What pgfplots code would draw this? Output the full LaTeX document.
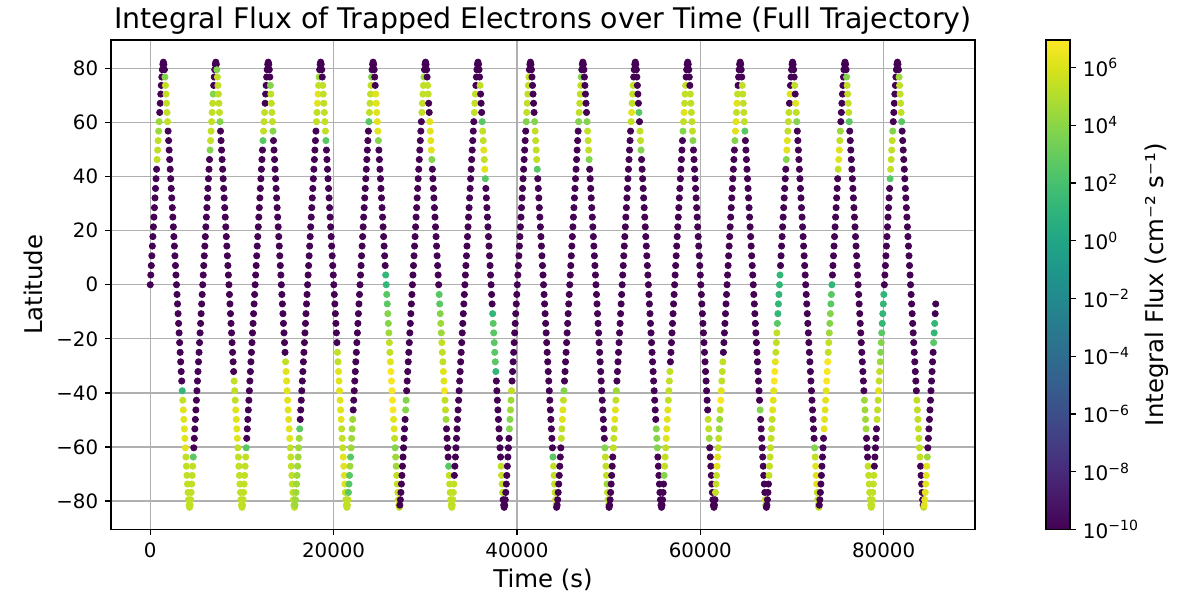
\documentclass[border=0pt]{standalone}
\usepackage{fontspec}
\setmainfont{DejaVu Sans}
\usepackage{pgfplots}
\usepackage{pgfplotstable}
\pgfplotsset{compat=1.18}
\pgfplotstableread{
t lat f
0 0 -10
57 3.6 -10
114 7.1 -10
172 10.7 -10
229 14.3 -10
286 17.8 -10
343 21.4 -10
400 25 -10
458 28.5 -10
515 32.1 -10
572 35.6 -10
629 39.2 -10
686 42.7 -10
744 46.3 5.4
801 49.8 5.4
858 53.3 5.4
915 56.8 4.5
972 60.3 4.5
1030 63.7 -10
1087 67.1 -10
1144 70.5 -10
1201 73.7 -10
1258 76.8 -10
1316 79.5 -10
1373 81.5 -10
1430 82.3 -10
1487 81.5 -10
1544 79.5 -10
1602 76.8 3.8
1659 73.7 5.4
1716 70.5 5.4
1773 67.1 5.4
1830 63.7 5.4
1888 60.3 5.4
1945 56.8 -10
2002 53.3 -10
2059 49.8 -10
2116 46.3 -10
2174 42.7 -10
2231 39.2 -10
2288 35.6 -10
2345 32.1 -10
2402 28.5 -10
2460 25 -10
2517 21.4 -10
2574 17.8 -10
2631 14.3 -10
2688 10.7 -10
2746 7.1 -10
2803 3.6 -10
2860 0 -10
2917 -3.6 -10
2974 -7.1 -10
3032 -10.7 -10
3089 -14.3 -10
3146 -17.8 -10
3203 -21.4 -10
3260 -25 -10
3318 -28.5 -10
3375 -32.1 -10
3432 -35.6 -10
3489 -39.2 1.2
3546 -42.7 5.4
3604 -46.3 6.2
3661 -49.8 6.2
3718 -53.3 6.2
3775 -56.8 6.2
3832 -60.3 6.2
3890 -63.7 5.4
3947 -67.1 5.4
4004 -70.5 5.4
4061 -73.7 5.4
4118 -76.8 5.4
4176 -79.5 5.4
4233 -81.5 5.4
4290 -82.3 5.4
4347 -81.5 5.4
4404 -79.5 5.4
4462 -76.8 5.4
4519 -73.7 5.4
4576 -70.5 5.4
4633 -67.1 5.4
4690 -63.7 2.6
4748 -60.3 -10
4805 -56.8 -10
4862 -53.3 -10
4919 -49.8 -10
4976 -46.3 -10
5034 -42.7 -10
5091 -39.2 -10
5148 -35.6 -10
5205 -32.1 -10
5262 -28.5 -10
5320 -25 -10
5377 -21.4 -10
5434 -17.8 -10
5491 -14.3 -10
5548 -10.7 -10
5606 -7.1 -10
5663 -3.6 -10
5720 0 -10
5777 3.6 -10
5834 7.1 -10
5892 10.7 -10
5949 14.3 -10
6006 17.8 -10
6063 21.4 -10
6120 25 -10
6178 28.5 -10
6235 32.1 -10
6292 35.6 -10
6349 39.2 -10
6406 42.7 -10
6464 46.3 -10
6521 49.8 3.8
6578 53.3 5.4
6635 56.8 5.4
6692 60.3 5.4
6750 63.7 5.4
6807 67.1 5.4
6864 70.5 3.8
6921 73.7 -10
6978 76.8 -10
7036 79.5 -10
7093 81.5 -10
7150 82.3 -10
7207 81.5 -10
7264 79.5 3.8
7322 76.8 5.4
7379 73.7 5.4
7436 70.5 5.4
7493 67.1 5.4
7550 63.7 5.4
7608 60.3 3.8
7665 56.8 -10
7722 53.3 -10
7779 49.8 -10
7836 46.3 -10
7894 42.7 -10
7951 39.2 -10
8008 35.6 -10
8065 32.1 -10
8122 28.5 -10
8180 25 -10
8237 21.4 -10
8294 17.8 -10
8351 14.3 -10
8408 10.7 -10
8466 7.1 -10
8523 3.6 -10
8580 0 -10
8637 -3.6 -10
8694 -7.1 -10
8752 -10.7 -10
8809 -14.3 -10
8866 -17.8 -10
8923 -21.4 -10
8980 -25 -10
9038 -28.5 -10
9095 -32.1 -10
9152 -35.6 5.4
9209 -39.2 5.4
9266 -42.7 5.4
9324 -46.3 6.2
9381 -49.8 6.2
9438 -53.3 6.2
9495 -56.8 6.2
9552 -60.3 5.4
9610 -63.7 5.4
9667 -67.1 5.4
9724 -70.5 5.4
9781 -73.7 5.4
9838 -76.8 5.4
9896 -79.5 5.4
9953 -81.5 5.4
10010 -82.3 5.4
10067 -81.5 5.4
10124 -79.5 5.4
10182 -76.8 5.4
10239 -73.7 5.4
10296 -70.5 5.4
10353 -67.1 5.4
10410 -63.7 5.4
10468 -60.3 2.6
10525 -56.8 -10
10582 -53.3 -10
10639 -49.8 -10
10696 -46.3 -10
10754 -42.7 -10
10811 -39.2 -10
10868 -35.6 -10
10925 -32.1 -10
10982 -28.5 -10
11040 -25 -10
11097 -21.4 -10
11154 -17.8 -10
11211 -14.3 -10
11268 -10.7 -10
11326 -7.1 -10
11383 -3.6 -10
11440 0 -10
11497 3.6 -10
11554 7.1 -10
11612 10.7 -10
11669 14.3 -10
11726 17.8 -10
11783 21.4 -10
11840 25 -10
11898 28.5 -10
11955 32.1 -10
12012 35.6 -10
12069 39.2 -10
12126 42.7 -10
12184 46.3 -10
12241 49.8 -10
12298 53.3 2.6
12355 56.8 5.4
12412 60.3 5.4
12470 63.7 5.4
12527 67.1 -10
12584 70.5 -10
12641 73.7 -10
12698 76.8 -10
12756 79.5 -10
12813 81.5 -10
12870 82.3 -10
12927 81.5 -10
12984 79.5 -10
13042 76.8 -10
13099 73.7 3.8
13156 70.5 5.4
13213 67.1 5.4
13270 63.7 5.4
13328 60.3 5.4
13385 56.8 3.8
13442 53.3 -10
13499 49.8 -10
13556 46.3 -10
13614 42.7 -10
13671 39.2 -10
13728 35.6 -10
13785 32.1 -10
13842 28.5 -10
13900 25 -10
13957 21.4 -10
14014 17.8 -10
14071 14.3 -10
14128 10.7 -10
14186 7.1 -10
14243 3.6 -10
14300 0 -10
14357 -3.6 -10
14414 -7.1 -10
14472 -10.7 -10
14529 -14.3 -10
14586 -17.8 -10
14643 -21.4 -10
14700 -25 -10
14758 -28.5 5.4
14815 -32.1 6.2
14872 -35.6 6.2
14929 -39.2 6.2
14986 -42.7 6.2
15044 -46.3 6.2
15101 -49.8 6.2
15158 -53.3 6.2
15215 -56.8 6.2
15272 -60.3 5.4
15330 -63.7 5.4
15387 -67.1 5.4
15444 -70.5 5.4
15501 -73.7 5.4
15558 -76.8 5.4
15616 -79.5 5.4
15673 -81.5 5.4
15730 -82.3 5.4
15787 -81.5 4.5
15844 -79.5 4.5
15902 -76.8 4.5
15959 -73.7 4.5
16016 -70.5 4.5
16073 -67.1 4.5
16130 -63.7 4.5
16188 -60.3 4.5
16245 -56.8 4.5
16302 -53.3 2.6
16359 -49.8 -10
16416 -46.3 -10
16474 -42.7 -10
16531 -39.2 -10
16588 -35.6 -10
16645 -32.1 -10
16702 -28.5 -10
16760 -25 -10
16817 -21.4 -10
16874 -17.8 -10
16931 -14.3 -10
16988 -10.7 -10
17046 -7.1 -10
17103 -3.6 -10
17160 0 -10
17217 3.6 -10
17274 7.1 -10
17332 10.7 -10
17389 14.3 -10
17446 17.8 -10
17503 21.4 -10
17560 25 -10
17618 28.5 -10
17675 32.1 -10
17732 35.6 -10
17789 39.2 -10
17846 42.7 -10
17904 46.3 -10
17961 49.8 -10
18018 53.3 -10
18075 56.8 -10
18132 60.3 5.4
18190 63.7 5.4
18247 67.1 6.2
18304 70.5 6.2
18361 73.7 5.4
18418 76.8 4.5
18476 79.5 -10
18533 81.5 -10
18590 82.3 -10
18647 81.5 -10
18704 79.5 -10
18762 76.8 -10
18819 73.7 5.4
18876 70.5 5.4
18933 67.1 5.4
18990 63.7 5.4
19048 60.3 5.4
19105 56.8 5.4
19162 53.3 2.6
19219 49.8 -10
19276 46.3 -10
19334 42.7 -10
19391 39.2 -10
19448 35.6 -10
19505 32.1 -10
19562 28.5 -10
19620 25 -10
19677 21.4 -10
19734 17.8 -10
19791 14.3 -10
19848 10.7 -10
19906 7.1 -10
19963 3.6 -10
20020 0 -10
20077 -3.6 -10
20134 -7.1 -10
20192 -10.7 -10
20249 -14.3 -10
20306 -17.8 -10
20363 -21.4 -10
20420 -25 5.4
20478 -28.5 5.4
20535 -32.1 6.2
20592 -35.6 6.2
20649 -39.2 6.2
20706 -42.7 6.2
20764 -46.3 6.2
20821 -49.8 6.2
20878 -53.3 5.4
20935 -56.8 5.4
20992 -60.3 5.4
21050 -63.7 6.2
21107 -67.1 6.2
21164 -70.5 6.2
21221 -73.7 6.2
21278 -76.8 5.4
21336 -79.5 5.4
21393 -81.5 5.4
21450 -82.3 5.4
21507 -81.5 5.4
21564 -79.5 5.4
21622 -76.8 2.6
21679 -73.7 2.6
21736 -70.5 2.6
21793 -67.1 4.5
21850 -63.7 2.6
21908 -60.3 4.5
21965 -56.8 4.5
22022 -53.3 4.5
22079 -49.8 4.5
22136 -46.3 -10
22194 -42.7 -10
22251 -39.2 -10
22308 -35.6 -10
22365 -32.1 -10
22422 -28.5 -10
22480 -25 -10
22537 -21.4 -10
22594 -17.8 -10
22651 -14.3 -10
22708 -10.7 -10
22766 -7.1 -10
22823 -3.6 -10
22880 0 -10
22937 3.6 -10
22994 7.1 -10
23052 10.7 -10
23109 14.3 -10
23166 17.8 -10
23223 21.4 -10
23280 25 -10
23338 28.5 -10
23395 32.1 -10
23452 35.6 -10
23509 39.2 -10
23566 42.7 -10
23624 46.3 -10
23681 49.8 -10
23738 53.3 -10
23795 56.8 -10
23852 60.3 2.6
23910 63.7 5.4
23967 67.1 5.4
24024 70.5 5.4
24081 73.7 5.4
24138 76.8 3.8
24196 79.5 -10
24253 81.5 -10
24310 82.3 -10
24367 81.5 -10
24424 79.5 -10
24482 76.8 -10
24539 73.7 -10
24596 70.5 6.2
24653 67.1 6.2
24710 63.7 6.2
24768 60.3 6.2
24825 56.8 6.2
24882 53.3 3.8
24939 49.8 -10
24996 46.3 -10
25054 42.7 -10
25111 39.2 -10
25168 35.6 -10
25225 32.1 -10
25282 28.5 -10
25340 25 -10
25397 21.4 -10
25454 17.8 -10
25511 14.3 -10
25568 10.7 -10
25626 7.1 -10
25683 3.6 1.2
25740 0 1.2
25797 -3.6 2.6
25854 -7.1 2.6
25912 -10.7 3.8
25969 -14.3 3.8
26026 -17.8 4.5
26083 -21.4 5.4
26140 -25 5.4
26198 -28.5 6.2
26255 -32.1 6.8
26312 -35.6 6.8
26369 -39.2 6.8
26426 -42.7 6.8
26484 -46.3 6.8
26541 -49.8 6.2
26598 -53.3 6.2
26655 -56.8 5.4
26712 -60.3 3.8
26770 -63.7 4.5
26827 -67.1 4.5
26884 -70.5 5.4
26941 -73.7 5.4
26998 -76.8 5.4
27056 -79.5 5.4
27113 -81.5 5.4
27170 -82.3 5.4
27227 -81.5 -10
27284 -79.5 -10
27342 -76.8 -10
27399 -73.7 -10
27456 -70.5 -10
27513 -67.1 -10
27570 -63.7 -10
27628 -60.3 -10
27685 -56.8 -10
27742 -53.3 -10
27799 -49.8 -10
27856 -46.3 3.8
27914 -42.7 3.8
27971 -39.2 -10
28028 -35.6 -10
28085 -32.1 -10
28142 -28.5 -10
28200 -25 -10
28257 -21.4 -10
28314 -17.8 -10
28371 -14.3 -10
28428 -10.7 -10
28486 -7.1 -10
28543 -3.6 -10
28600 0 -10
28657 3.6 -10
28714 7.1 -10
28772 10.7 -10
28829 14.3 -10
28886 17.8 -10
28943 21.4 -10
29000 25 -10
29058 28.5 -10
29115 32.1 -10
29172 35.6 -10
29229 39.2 -10
29286 42.7 -10
29344 46.3 -10
29401 49.8 -10
29458 53.3 -10
29515 56.8 -10
29572 60.3 -10
29630 63.7 5.4
29687 67.1 5.4
29744 70.5 5.4
29801 73.7 5.4
29858 76.8 4.5
29916 79.5 -10
29973 81.5 -10
30030 82.3 -10
30087 81.5 -10
30144 79.5 -10
30202 76.8 -10
30259 73.7 5.4
30316 70.5 5.4
30373 67.1 -10
30430 63.7 -10
30488 60.3 6.2
30545 56.8 6.2
30602 53.3 6.2
30659 49.8 6.2
30716 46.3 3.8
30774 42.7 -10
30831 39.2 -10
30888 35.6 -10
30945 32.1 -10
31002 28.5 -10
31060 25 -10
31117 21.4 -10
31174 17.8 -10
31231 14.3 -10
31288 10.7 -10
31346 7.1 -10
31403 3.6 -10
31460 0 -10
31517 -3.6 2.6
31574 -7.1 2.6
31632 -10.7 3.8
31689 -14.3 4.5
31746 -17.8 4.5
31803 -21.4 5.4
31860 -25 5.4
31918 -28.5 5.4
31975 -32.1 6.2
32032 -35.6 6.2
32089 -39.2 6.8
32146 -42.7 5.4
32204 -46.3 5.4
32261 -49.8 4.5
32318 -53.3 -10
32375 -56.8 -10
32432 -60.3 -10
32490 -63.7 -10
32547 -67.1 2.6
32604 -70.5 5.4
32661 -73.7 5.4
32718 -76.8 5.4
32776 -79.5 5.4
32833 -81.5 5.4
32890 -82.3 5.4
32947 -81.5 5.4
33004 -79.5 5.4
33062 -76.8 5.4
33119 -73.7 5.4
33176 -70.5 -10
33233 -67.1 -10
33290 -63.7 -10
33348 -60.3 -10
33405 -56.8 -10
33462 -53.3 -10
33519 -49.8 -10
33576 -46.3 -10
33634 -42.7 -10
33691 -39.2 -10
33748 -35.6 -10
33805 -32.1 -10
33862 -28.5 -10
33920 -25 -10
33977 -21.4 -10
34034 -17.8 -10
34091 -14.3 -10
34148 -10.7 -10
34206 -7.1 -10
34263 -3.6 -10
34320 0 -10
34377 3.6 -10
34434 7.1 -10
34492 10.7 -10
34549 14.3 -10
34606 17.8 -10
34663 21.4 -10
34720 25 -10
34778 28.5 -10
34835 32.1 -10
34892 35.6 -10
34949 39.2 -10
35006 42.7 -10
35064 46.3 -10
35121 49.8 -10
35178 53.3 -10
35235 56.8 -10
35292 60.3 -10
35350 63.7 5.4
35407 67.1 5.4
35464 70.5 5.4
35521 73.7 -10
35578 76.8 -10
35636 79.5 -10
35693 81.5 -10
35750 82.3 -10
35807 81.5 -10
35864 79.5 -10
35922 76.8 -10
35979 73.7 5.4
36036 70.5 -10
36093 67.1 -10
36150 63.7 -10
36208 60.3 2.6
36265 56.8 5.4
36322 53.3 5.4
36379 49.8 6.2
36436 46.3 5.4
36494 42.7 6.2
36551 39.2 2.6
36608 35.6 -10
36665 32.1 -10
36722 28.5 -10
36780 25 -10
36837 21.4 -10
36894 17.8 -10
36951 14.3 -10
37008 10.7 -10
37066 7.1 -10
37123 3.6 -10
37180 0 -10
37237 -3.6 -10
37294 -7.1 -10
37352 -10.7 1.2
37409 -14.3 2.6
37466 -17.8 2.6
37523 -21.4 2.6
37580 -25 2.6
37638 -28.5 2.6
37695 -32.1 1.2
37752 -35.6 -10
37809 -39.2 -10
37866 -42.7 -10
37924 -46.3 -10
37981 -49.8 -10
38038 -53.3 -10
38095 -56.8 -10
38152 -60.3 -10
38210 -63.7 -10
38267 -67.1 5.4
38324 -70.5 5.4
38381 -73.7 5.4
38438 -76.8 5.4
38496 -79.5 -10
38553 -81.5 -10
38610 -82.3 -10
38667 -81.5 -10
38724 -79.5 -10
38782 -76.8 -10
38839 -73.7 -10
38896 -70.5 -10
38953 -67.1 -10
39010 -63.7 -10
39068 -60.3 -10
39125 -56.8 -10
39182 -53.3 3.8
39239 -49.8 3.8
39296 -46.3 4.5
39354 -42.7 4.5
39411 -39.2 5.4
39468 -35.6 -10
39525 -32.1 -10
39582 -28.5 -10
39640 -25 -10
39697 -21.4 -10
39754 -17.8 -10
39811 -14.3 -10
39868 -10.7 -10
39926 -7.1 -10
39983 -3.6 -10
40040 0 -10
40097 3.6 -10
40154 7.1 -10
40212 10.7 -10
40269 14.3 -10
40326 17.8 -10
40383 21.4 -10
40440 25 -10
40498 28.5 -10
40555 32.1 -10
40612 35.6 -10
40669 39.2 -10
40726 42.7 -10
40784 46.3 -10
40841 49.8 -10
40898 53.3 -10
40955 56.8 -10
41012 60.3 3.8
41070 63.7 5.4
41127 67.1 5.4
41184 70.5 5.4
41241 73.7 5.4
41298 76.8 5.4
41356 79.5 -10
41413 81.5 -10
41470 82.3 -10
41527 81.5 -10
41584 79.5 -10
41642 76.8 -10
41699 73.7 -10
41756 70.5 -10
41813 67.1 -10
41870 63.7 -10
41928 60.3 3.8
41985 56.8 5.4
42042 53.3 5.4
42099 49.8 5.4
42156 46.3 5.4
42214 42.7 2.6
42271 39.2 -10
42328 35.6 -10
42385 32.1 -10
42442 28.5 -10
42500 25 -10
42557 21.4 -10
42614 17.8 -10
42671 14.3 -10
42728 10.7 -10
42786 7.1 -10
42843 3.6 -10
42900 0 -10
42957 -3.6 -10
43014 -7.1 -10
43072 -10.7 -10
43129 -14.3 -10
43186 -17.8 -10
43243 -21.4 -10
43300 -25 -10
43358 -28.5 -10
43415 -32.1 -10
43472 -35.6 -10
43529 -39.2 -10
43586 -42.7 -10
43644 -46.3 -10
43701 -49.8 -10
43758 -53.3 -10
43815 -56.8 -10
43872 -60.3 -10
43930 -63.7 2.6
43987 -67.1 5.4
44044 -70.5 5.4
44101 -73.7 5.4
44158 -76.8 5.4
44216 -79.5 5.4
44273 -81.5 5.4
44330 -82.3 -10
44387 -81.5 -10
44444 -79.5 -10
44502 -76.8 -10
44559 -73.7 -10
44616 -70.5 -10
44673 -67.1 -10
44730 -63.7 -10
44788 -60.3 -10
44845 -56.8 5.4
44902 -53.3 5.4
44959 -49.8 6.2
45016 -46.3 6.2
45074 -42.7 5.4
45131 -39.2 3.8
45188 -35.6 -10
45245 -32.1 -10
45302 -28.5 -10
45360 -25 -10
45417 -21.4 -10
45474 -17.8 -10
45531 -14.3 -10
45588 -10.7 -10
45646 -7.1 -10
45703 -3.6 -10
45760 0 -10
45817 3.6 -10
45874 7.1 -10
45932 10.7 -10
45989 14.3 -10
46046 17.8 -10
46103 21.4 -10
46160 25 -10
46218 28.5 -10
46275 32.1 -10
46332 35.6 -10
46389 39.2 -10
46446 42.7 -10
46504 46.3 -10
46561 49.8 -10
46618 53.3 -10
46675 56.8 -10
46732 60.3 3.8
46790 63.7 5.4
46847 67.1 5.4
46904 70.5 5.4
46961 73.7 5.4
47018 76.8 3.8
47076 79.5 -10
47133 81.5 -10
47190 82.3 -10
47247 81.5 -10
47304 79.5 -10
47362 76.8 -10
47419 73.7 -10
47476 70.5 -10
47533 67.1 -10
47590 63.7 -10
47648 60.3 3.8
47705 56.8 5.4
47762 53.3 5.4
47819 49.8 5.4
47876 46.3 3.8
47934 42.7 -10
47991 39.2 -10
48048 35.6 -10
48105 32.1 -10
48162 28.5 -10
48220 25 -10
48277 21.4 -10
48334 17.8 -10
48391 14.3 -10
48448 10.7 -10
48506 7.1 -10
48563 3.6 -10
48620 0 -10
48677 -3.6 -10
48734 -7.1 -10
48792 -10.7 -10
48849 -14.3 -10
48906 -17.8 -10
48963 -21.4 -10
49020 -25 -10
49078 -28.5 -10
49135 -32.1 -10
49192 -35.6 -10
49249 -39.2 -10
49306 -42.7 -10
49364 -46.3 -10
49421 -49.8 -10
49478 -53.3 -10
49535 -56.8 -10
49592 -60.3 3.8
49650 -63.7 5.4
49707 -67.1 5.4
49764 -70.5 5.4
49821 -73.7 4.5
49878 -76.8 5.4
49936 -79.5 5.4
49993 -81.5 5.4
50050 -82.3 -10
50107 -81.5 -10
50164 -79.5 -10
50222 -76.8 -10
50279 -73.7 -10
50336 -70.5 -10
50393 -67.1 -10
50450 -63.7 -10
50508 -60.3 5.4
50565 -56.8 5.4
50622 -53.3 5.4
50679 -49.8 6.2
50736 -46.3 6.2
50794 -42.7 5.4
50851 -39.2 4.5
50908 -35.6 -10
50965 -32.1 -10
51022 -28.5 -10
51080 -25 -10
51137 -21.4 -10
51194 -17.8 -10
51251 -14.3 -10
51308 -10.7 -10
51366 -7.1 -10
51423 -3.6 -10
51480 0 -10
51537 3.6 -10
51594 7.1 -10
51652 10.7 -10
51709 14.3 -10
51766 17.8 -10
51823 21.4 -10
51880 25 -10
51938 28.5 -10
51995 32.1 -10
52052 35.6 -10
52109 39.2 -10
52166 42.7 -10
52224 46.3 -10
52281 49.8 -10
52338 53.3 -10
52395 56.8 -10
52452 60.3 5.4
52510 63.7 6.2
52567 67.1 5.4
52624 70.5 5.4
52681 73.7 5.4
52738 76.8 -10
52796 79.5 -10
52853 81.5 -10
52910 82.3 -10
52967 81.5 -10
53024 79.5 -10
53082 76.8 -10
53139 73.7 -10
53196 70.5 -10
53253 67.1 -10
53310 63.7 2.6
53368 60.3 -10
53425 56.8 5.4
53482 53.3 5.4
53539 49.8 3.8
53596 46.3 -10
53654 42.7 -10
53711 39.2 -10
53768 35.6 -10
53825 32.1 -10
53882 28.5 -10
53940 25 -10
53997 21.4 -10
54054 17.8 -10
54111 14.3 -10
54168 10.7 -10
54226 7.1 -10
54283 3.6 -10
54340 0 -10
54397 -3.6 -10
54454 -7.1 -10
54512 -10.7 -10
54569 -14.3 -10
54626 -17.8 -10
54683 -21.4 -10
54740 -25 -10
54798 -28.5 -10
54855 -32.1 -10
54912 -35.6 -10
54969 -39.2 -10
55026 -42.7 -10
55084 -46.3 -10
55141 -49.8 -10
55198 -53.3 3.8
55255 -56.8 3.8
55312 -60.3 3.8
55370 -63.7 -10
55427 -67.1 -10
55484 -70.5 -10
55541 -73.7 -10
55598 -76.8 -10
55656 -79.5 -10
55713 -81.5 -10
55770 -82.3 -10
55827 -81.5 -10
55884 -79.5 -10
55942 -76.8 -10
55999 -73.7 -10
56056 -70.5 3.8
56113 -67.1 5.4
56170 -63.7 5.4
56228 -60.3 5.4
56285 -56.8 6.2
56342 -53.3 6.2
56399 -49.8 6.2
56456 -46.3 6.2
56514 -42.7 5.4
56571 -39.2 5.4
56628 -35.6 5.4
56685 -32.1 5.4
56742 -28.5 -10
56800 -25 -10
56857 -21.4 -10
56914 -17.8 -10
56971 -14.3 -10
57028 -10.7 -10
57086 -7.1 -10
57143 -3.6 -10
57200 0 -10
57257 3.6 -10
57314 7.1 -10
57372 10.7 -10
57429 14.3 -10
57486 17.8 -10
57543 21.4 -10
57600 25 -10
57658 28.5 -10
57715 32.1 -10
57772 35.6 -10
57829 39.2 -10
57886 42.7 -10
57944 46.3 -10
58001 49.8 -10
58058 53.3 -10
58115 56.8 3.8
58172 60.3 5.4
58230 63.7 6.2
58287 67.1 5.4
58344 70.5 5.4
58401 73.7 5.4
58458 76.8 -10
58516 79.5 -10
58573 81.5 -10
58630 82.3 -10
58687 81.5 -10
58744 79.5 -10
58802 76.8 -10
58859 73.7 -10
58916 70.5 5.4
58973 67.1 5.4
59030 63.7 5.4
59088 60.3 5.4
59145 56.8 5.4
59202 53.3 3.8
59259 49.8 -10
59316 46.3 -10
59374 42.7 -10
59431 39.2 -10
59488 35.6 -10
59545 32.1 -10
59602 28.5 -10
59660 25 -10
59717 21.4 -10
59774 17.8 -10
59831 14.3 -10
59888 10.7 -10
59946 7.1 -10
60003 3.6 -10
60060 0 -10
60117 -3.6 -10
60174 -7.1 -10
60232 -10.7 -10
60289 -14.3 -10
60346 -17.8 -10
60403 -21.4 -10
60460 -25 -10
60518 -28.5 -10
60575 -32.1 -10
60632 -35.6 -10
60689 -39.2 -10
60746 -42.7 -10
60804 -46.3 -10
60861 -49.8 5.4
60918 -53.3 5.4
60975 -56.8 4.5
61032 -60.3 -10
61090 -63.7 -10
61147 -67.1 -10
61204 -70.5 -10
61261 -73.7 -10
61318 -76.8 -10
61376 -79.5 -10
61433 -81.5 -10
61490 -82.3 -10
61547 -81.5 -10
61604 -79.5 -10
61662 -76.8 5.4
61719 -73.7 5.4
61776 -70.5 5.4
61833 -67.1 6.2
61890 -63.7 6.2
61948 -60.3 5.4
62005 -56.8 5.4
62062 -53.3 4.5
62119 -49.8 4.5
62176 -46.3 5.4
62234 -42.7 6.8
62291 -39.2 6.2
62348 -35.6 5.4
62405 -32.1 5.4
62462 -28.5 5.4
62520 -25 -10
62577 -21.4 -10
62634 -17.8 -10
62691 -14.3 -10
62748 -10.7 -10
62806 -7.1 -10
62863 -3.6 -10
62920 0 -10
62977 3.6 -10
63034 7.1 -10
63092 10.7 -10
63149 14.3 -10
63206 17.8 -10
63263 21.4 -10
63320 25 -10
63378 28.5 -10
63435 32.1 -10
63492 35.6 -10
63549 39.2 -10
63606 42.7 -10
63664 46.3 -10
63721 49.8 -10
63778 53.3 3.8
63835 56.8 6.2
63892 60.3 6.2
63950 63.7 5.4
64007 67.1 6.2
64064 70.5 5.4
64121 73.7 -10
64178 76.8 -10
64236 79.5 -10
64293 81.5 -10
64350 82.3 -10
64407 81.5 -10
64464 79.5 -10
64522 76.8 -10
64579 73.7 5.4
64636 70.5 5.4
64693 67.1 5.4
64750 63.7 5.4
64808 60.3 5.4
64865 56.8 2.6
64922 53.3 -10
64979 49.8 -10
65036 46.3 -10
65094 42.7 -10
65151 39.2 -10
65208 35.6 -10
65265 32.1 -10
65322 28.5 -10
65380 25 -10
65437 21.4 -10
65494 17.8 -10
65551 14.3 -10
65608 10.7 -10
65666 7.1 -10
65723 3.6 -10
65780 0 -10
65837 -3.6 -10
65894 -7.1 -10
65952 -10.7 -10
66009 -14.3 -10
66066 -17.8 -10
66123 -21.4 -10
66180 -25 -10
66238 -28.5 -10
66295 -32.1 -10
66352 -35.6 -10
66409 -39.2 -10
66466 -42.7 -10
66524 -46.3 3.8
66581 -49.8 -10
66638 -53.3 -10
66695 -56.8 -10
66752 -60.3 -10
66810 -63.7 -10
66867 -67.1 -10
66924 -70.5 -10
66981 -73.7 -10
67038 -76.8 -10
67096 -79.5 5.4
67153 -81.5 3.8
67210 -82.3 -10
67267 -81.5 -10
67324 -79.5 -10
67382 -76.8 -10
67439 -73.7 -10
67496 -70.5 5.4
67553 -67.1 5.4
67610 -63.7 5.4
67668 -60.3 5.4
67725 -56.8 5.4
67782 -53.3 5.4
67839 -49.8 5.4
67896 -46.3 6.2
67954 -42.7 6.2
68011 -39.2 6.2
68068 -35.6 6.8
68125 -32.1 6.8
68182 -28.5 6.2
68240 -25 5.4
68297 -21.4 5.4
68354 -17.8 5.4
68411 -14.3 2.6
68468 -10.7 1.2
68526 -7.1 1.2
68583 -3.6 1.2
68640 0 1.2
68697 3.6 1.2
68754 7.1 -10
68812 10.7 -10
68869 14.3 -10
68926 17.8 -10
68983 21.4 -10
69040 25 -10
69098 28.5 -10
69155 32.1 -10
69212 35.6 -10
69269 39.2 -10
69326 42.7 -10
69384 46.3 3.8
69441 49.8 6.2
69498 53.3 6.2
69555 56.8 5.4
69612 60.3 5.4
69670 63.7 5.4
69727 67.1 -10
69784 70.5 6.2
69841 73.7 -10
69898 76.8 -10
69956 79.5 -10
70013 81.5 -10
70070 82.3 -10
70127 81.5 -10
70184 79.5 -10
70242 76.8 -10
70299 73.7 5.4
70356 70.5 -10
70413 67.1 6.2
70470 63.7 5.4
70528 60.3 3.8
70585 56.8 -10
70642 53.3 -10
70699 49.8 -10
70756 46.3 -10
70814 42.7 -10
70871 39.2 -10
70928 35.6 -10
70985 32.1 -10
71042 28.5 -10
71100 25 -10
71157 21.4 -10
71214 17.8 -10
71271 14.3 -10
71328 10.7 -10
71386 7.1 -10
71443 3.6 -10
71500 0 -10
71557 -3.6 -10
71614 -7.1 -10
71672 -10.7 -10
71729 -14.3 -10
71786 -17.8 -10
71843 -21.4 -10
71900 -25 -10
71958 -28.5 -10
72015 -32.1 -10
72072 -35.6 -10
72129 -39.2 -10
72186 -42.7 -10
72244 -46.3 -10
72301 -49.8 -10
72358 -53.3 -10
72415 -56.8 -10
72472 -60.3 3.8
72530 -63.7 5.4
72587 -67.1 6.2
72644 -70.5 6.2
72701 -73.7 6.2
72758 -76.8 5.4
72816 -79.5 5.4
72873 -81.5 5.4
72930 -82.3 5.4
72987 -81.5 -10
73044 -79.5 -10
73102 -76.8 -10
73159 -73.7 -10
73216 -70.5 -10
73273 -67.1 -10
73330 -63.7 -10
73388 -60.3 -10
73445 -56.8 -10
73502 -53.3 6.2
73559 -49.8 6.2
73616 -46.3 6.2
73674 -42.7 6.2
73731 -39.2 6.2
73788 -35.6 6.8
73845 -32.1 6.8
73902 -28.5 6.8
73960 -25 5.4
74017 -21.4 5.4
74074 -17.8 4.5
74131 -14.3 3.8
74188 -10.7 3.8
74246 -7.1 2.6
74303 -3.6 2.6
74360 0 1.2
74417 3.6 -10
74474 7.1 -10
74532 10.7 -10
74589 14.3 -10
74646 17.8 -10
74703 21.4 -10
74760 25 -10
74818 28.5 -10
74875 32.1 -10
74932 35.6 -10
74989 39.2 -10
75046 42.7 5.4
75104 46.3 6.2
75161 49.8 6.2
75218 53.3 5.4
75275 56.8 4.5
75332 60.3 -10
75390 63.7 -10
75447 67.1 -10
75504 70.5 -10
75561 73.7 -10
75618 76.8 -10
75676 79.5 -10
75733 81.5 -10
75790 82.3 -10
75847 81.5 -10
75904 79.5 -10
75962 76.8 3.8
76019 73.7 5.4
76076 70.5 5.4
76133 67.1 5.4
76190 63.7 5.4
76248 60.3 2.6
76305 56.8 -10
76362 53.3 -10
76419 49.8 -10
76476 46.3 -10
76534 42.7 -10
76591 39.2 -10
76648 35.6 -10
76705 32.1 -10
76762 28.5 -10
76820 25 -10
76877 21.4 -10
76934 17.8 -10
76991 14.3 -10
77048 10.7 -10
77106 7.1 -10
77163 3.6 -10
77220 0 -10
77277 -3.6 -10
77334 -7.1 -10
77392 -10.7 -10
77449 -14.3 -10
77506 -17.8 -10
77563 -21.4 -10
77620 -25 -10
77678 -28.5 -10
77735 -32.1 -10
77792 -35.6 -10
77849 -39.2 -10
77906 -42.7 4.5
77964 -46.3 4.5
78021 -49.8 4.5
78078 -53.3 4.5
78135 -56.8 -10
78192 -60.3 -10
78250 -63.7 -10
78307 -67.1 5.4
78364 -70.5 5.4
78421 -73.7 5.4
78478 -76.8 5.4
78536 -79.5 5.4
78593 -81.5 5.4
78650 -82.3 5.4
78707 -81.5 5.4
78764 -79.5 5.4
78822 -76.8 5.4
78879 -73.7 5.4
78936 -70.5 5.4
78993 -67.1 -10
79050 -63.7 -10
79108 -60.3 -10
79165 -56.8 -10
79222 -53.3 -10
79279 -49.8 5.4
79336 -46.3 5.4
79394 -42.7 5.4
79451 -39.2 6.2
79508 -35.6 5.4
79565 -32.1 5.4
79622 -28.5 4.5
79680 -25 3.8
79737 -21.4 3.8
79794 -17.8 2.6
79851 -14.3 1.2
79908 -10.7 1.2
79966 -7.1 1.2
80023 -3.6 1.2
80080 0 -10
80137 3.6 -10
80194 7.1 -10
80252 10.7 -10
80309 14.3 -10
80366 17.8 -10
80423 21.4 -10
80480 25 -10
80538 28.5 -10
80595 32.1 -10
80652 35.6 -10
80709 39.2 2.6
80766 42.7 5.4
80824 46.3 5.4
80881 49.8 5.4
80938 53.3 5.4
80995 56.8 3.8
81052 60.3 -10
81110 63.7 -10
81167 67.1 -10
81224 70.5 -10
81281 73.7 -10
81338 76.8 -10
81396 79.5 -10
81453 81.5 -10
81510 82.3 -10
81567 81.5 -10
81624 79.5 -10
81682 76.8 4.5
81739 73.7 5.4
81796 70.5 5.4
81853 67.1 5.4
81910 63.7 5.4
81968 60.3 2.6
82025 56.8 -10
82082 53.3 -10
82139 49.8 -10
82196 46.3 -10
82254 42.7 -10
82311 39.2 -10
82368 35.6 -10
82425 32.1 -10
82482 28.5 -10
82540 25 -10
82597 21.4 -10
82654 17.8 -10
82711 14.3 -10
82768 10.7 -10
82826 7.1 -10
82883 3.6 -10
82940 0 -10
82997 -3.6 -10
83054 -7.1 -10
83112 -10.7 -10
83169 -14.3 -10
83226 -17.8 -10
83283 -21.4 -10
83340 -25 -10
83398 -28.5 -10
83455 -32.1 -10
83512 -35.6 -10
83569 -39.2 -10
83626 -42.7 5.4
83684 -46.3 5.4
83741 -49.8 5.4
83798 -53.3 5.4
83855 -56.8 5.4
83912 -60.3 5.4
83970 -63.7 5.4
84027 -67.1 -10
84084 -70.5 -10
84141 -73.7 -10
84198 -76.8 -10
84256 -79.5 -10
84313 -81.5 -10
84370 -82.3 5.4
84427 -81.5 6.2
84484 -79.5 6.2
84542 -76.8 6.2
84599 -73.7 6.2
84656 -70.5 6.2
84713 -67.1 6.2
84770 -63.7 4.5
84828 -60.3 -10
84885 -56.8 -10
84942 -53.3 -10
84999 -49.8 -10
85056 -46.3 -10
85114 -42.7 -10
85171 -39.2 -10
85228 -35.6 -10
85285 -32.1 -10
85342 -28.5 -10
85400 -25 -10
85457 -21.4 2.6
85514 -17.8 1.2
85571 -14.3 1.2
85628 -10.7 -10
85686 -7.1 -10
}\orbit
\begin{document}
\begin{tikzpicture}
\begin{axis}[
  scale only axis, width=432pt, height=244.75pt,
  xmin=-4284, xmax=89970, ymin=-90.5, ymax=90.5,
  scaled x ticks=false, scaled y ticks=false,
  xtick={0,20000,40000,60000,80000},
  xticklabels={0,20000,40000,60000,80000},
  ytick={-80,-60,-40,-20,0,20,40,60,80},
  yticklabels={−80,−60,−40,−20,0,20,40,60,80},
  tick label style={font=\fontsize{9.9}{11}\selectfont},
  xtick pos=left, ytick pos=left, tick align=outside,
  major tick length=2.9pt,
  every tick/.style={black, line width=0.67pt},
  grid=major, grid style={color=black!31, line width=0.67pt},
  axis line style={line width=0.67pt},
  axis on top,
  every axis title shift=0pt,
  title={Integral Flux of Trapped Electrons over Time (Full Trajectory)},
  title style={font=\fontsize{14.2}{16}\selectfont, at={(axis description cs:0.5,1.0225)}, anchor=base, yshift=0pt},
  xlabel={Time (s)}, ylabel={Latitude},
  label style={font=\fontsize{12.2}{14}\selectfont},
  xlabel style={at={(axis description cs:0.5,-0.102)}, anchor=center},
  ylabel style={at={(axis description cs:-0.0903,0.5)}, anchor=center},
  colormap/viridis,
  point meta min=-10, point meta max=6.955,
  colorbar,
  colorbar style={
    scale only axis, width=12pt, height=244.75pt,
    at={(parent axis.north east)}, anchor=north west, xshift=27pt,
    ytick={-10,-8,-6,-4,-2,0,2,4,6},
    yticklabels={10\textsuperscript{−10},10\textsuperscript{−8},10\textsuperscript{−6},10\textsuperscript{−4},10\textsuperscript{−2},10\textsuperscript{0},10\textsuperscript{2},10\textsuperscript{4},10\textsuperscript{6}},
    yticklabel style={font=\fontsize{10}{11}\selectfont},
    ytick pos=right, yticklabel pos=right, tick align=outside,
    major tick length=2.9pt,
    every tick/.style={black, line width=0.67pt},
    axis line style={line width=0.67pt},
    ylabel={Integral Flux (cm⁻² s⁻¹)},
    ylabel style={font=\fontsize{12.2}{14}\selectfont, at={(axis description cs:4.62,0.5)}, anchor=center},
  },
]
\addplot[scatter, only marks, mark=*, mark size=1.55pt, line width=0.4pt,
  point meta=explicit,
  scatter/use mapped color={draw=mapped color, fill=mapped color}]
  table[x=t, y=lat, meta=f] {\orbit};
\end{axis}
\pgfresetboundingbox
\useasboundingbox (-55.5pt,-34.25pt) rectangle (534.5pt,264.75pt);
\end{tikzpicture}
\end{document}
